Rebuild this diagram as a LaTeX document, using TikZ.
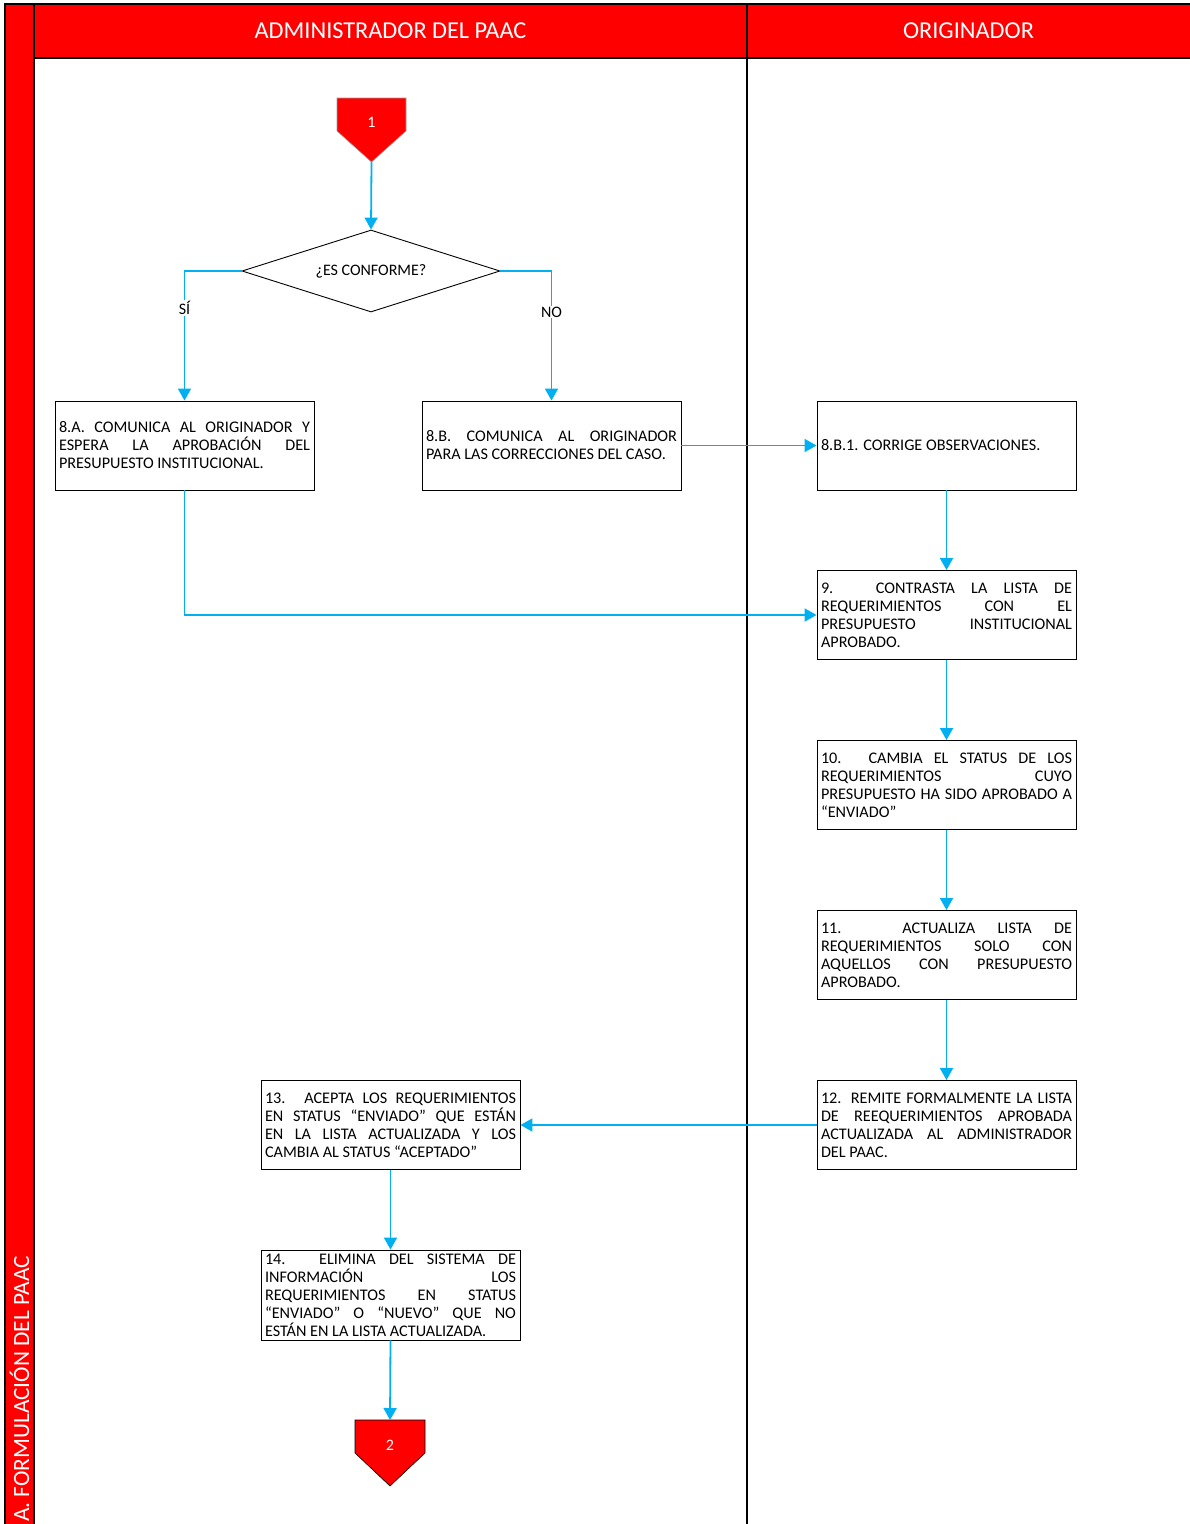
\documentclass[tikz,border=0pt]{standalone}
\usepackage{fontspec}
\setmainfont{Carlito}
\usetikzlibrary{arrows.meta,shapes.geometric,calc}
\definecolor{lanered}{HTML}{FF0000}
\definecolor{flowblue}{HTML}{00B0F0}
\newcommand{\boxfont}{\fontsize{16.2}{18}\selectfont\hyphenpenalty=10000\tolerance=10000\emergencystretch=20pt}
\newcommand{\headfont}{\fontsize{24.3}{26}\selectfont}
\newcommand{\smallfont}{\fontsize{16}{18}\selectfont}
\begin{document}
\begin{tikzpicture}[x=1pt,y=-1pt,
  stepbox/.style={draw=black, line width=0.9pt, rectangle, minimum width=259pt, minimum height=89pt,
    text width=251pt, inner xsep=4pt, inner ysep=0pt, align=justify, font=\boxfont},
  flow/.style={draw=flowblue, line width=1.8pt, -{Triangle[width=13pt,length=12pt]}},
  decision/.style={draw=black, line width=0.9pt, diamond, shape aspect=3, minimum width=258pt,
    minimum height=82pt, inner sep=0pt, font=\smallfont},
  branchlabel/.style={fill=white, inner sep=1pt, font=\smallfont},
  offpage/.style={fill=lanered, draw=black!40, line width=0.6pt},
  offlabel/.style={text=white, font=\smallfont, inner sep=0pt},
  lanehead/.style={fill=lanered, draw=black, line width=1.4pt},
  headtext/.style={text=white, font=\headfont, inner sep=0pt}
]
\useasboundingbox (0,0) rectangle (1190,1524);
% swimlane frame
\path[lanehead] (5,4) rectangle (34,1530);
\path[lanehead] (34,4) rectangle (1196,58);
\draw[black, line width=1.6pt] (747,4) -- (747,1530);
\node[headtext] (h1) at (390.5,31) {ADMINISTRADOR DEL PAAC};
\node[headtext] (h2) at (968.5,31) {ORIGINADOR};
\node[headtext, rotate=90, anchor=west, font=\fontsize{23.3}{26}\selectfont] (h0) at (19.5,1522) {A. FORMULACIÓN DEL PAAC};

% off-page connector 1
\path[offpage] (337,98) -- (406,98) -- (406,131) -- (371.5,162) -- (337,131) -- cycle;
\node[offlabel] (c1) at (371.5,122) {1};
\coordinate (c1tip) at (371.5,162);

% decision
\node[decision] (dec) at (371,271) {¿ES CONFORME?};

% boxes
\node[stepbox] (b8a) at (184.5,445.5) {8.A. COMUNICA AL ORIGINADOR Y\linebreak ESPERA LA APROBACIÓN DEL\linebreak PRESUPUESTO INSTITUCIONAL.};
\node[stepbox] (b8b) at (551.5,445.5) {8.B. COMUNICA AL ORIGINADOR\linebreak PARA LAS CORRECCIONES DEL CASO.};
\node[stepbox] (b8b1) at (946.5,445.5) {8.B.1. CORRIGE OBSERVACIONES.};
\node[stepbox] (b9) at (946.5,615) {9. CONTRASTA LA LISTA DE\linebreak REQUERIMIENTOS CON EL\linebreak PRESUPUESTO INSTITUCIONAL\linebreak APROBADO.};
\node[stepbox] (b10) at (946.5,785) {10. CAMBIA EL STATUS DE LOS\linebreak REQUERIMIENTOS CUYO\linebreak PRESUPUESTO HA SIDO APROBADO A\linebreak “ENVIADO”};
\node[stepbox] (b11) at (946.5,955) {11. ACTUALIZA LISTA DE\linebreak REQUERIMIENTOS SOLO CON\linebreak AQUELLOS CON PRESUPUESTO\linebreak APROBADO.};
\node[stepbox] (b12) at (946.5,1125) {12. REMITE FORMALMENTE LA LISTA\linebreak DE REEQUERIMIENTOS APROBADA\linebreak ACTUALIZADA AL ADMINISTRADOR\linebreak DEL PAAC.};
\node[stepbox] (b13) at (390.5,1125) {13. ACEPTA LOS REQUERIMIENTOS\linebreak EN STATUS “ENVIADO” QUE ESTÁN\linebreak EN LA LISTA ACTUALIZADA Y LOS\linebreak CAMBIA AL STATUS “ACEPTADO”};
\node[stepbox, minimum height=90pt] (b14) at (390.5,1295) {14. ELIMINA DEL SISTEMA DE\linebreak INFORMACIÓN LOS\linebreak REQUERIMIENTOS EN STATUS\linebreak “ENVIADO” O “NUEVO” QUE NO\linebreak ESTÁN EN LA LISTA ACTUALIZADA.};

% off-page connector 2
\path[offpage, draw=black] (355,1420) -- (425,1420) -- (425,1453) -- (390,1486) -- (355,1453) -- cycle;
\node[offlabel] (c2) at (390,1445) {2};
\coordinate (c2top) at (390,1420);

% connectors
\draw[flow] (c1tip) -- (dec.north);
\draw[flow] (dec.west) -| (b8a.north);
\draw[flow] (dec.east) -| (b8b.north);
\node[branchlabel] (si) at (184.5,308) {SÍ};
\node[branchlabel] (no) at (551.5,312) {NO};
\draw[flow] (b8b.east) -- (b8b1.west);
\draw[flow] (b8b1.south) -- (b9.north);
\draw[flow] (b8a.south) |- (b9.west);
\draw[flow] (b9.south) -- (b10.north);
\draw[flow] (b10.south) -- (b11.north);
\draw[flow] (b11.south) -- (b12.north);
\draw[flow] (b12.west) -- (b13.east);
\draw[flow] (b13.south) -- (b14.north);
\draw[flow] (b14.south) -- (c2top);
\end{tikzpicture}
\end{document}
